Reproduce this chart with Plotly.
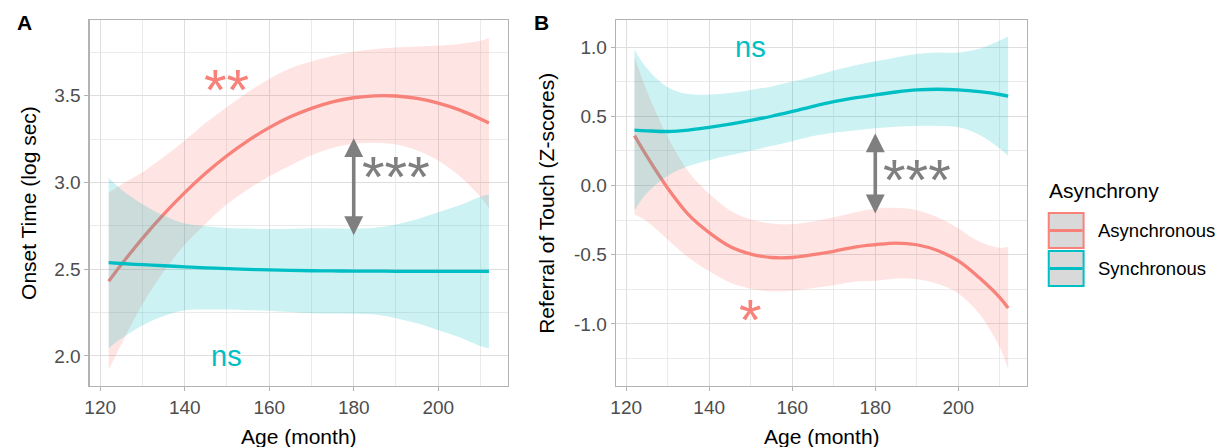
import plotly.graph_objects as go

# ---------------- data ----------------
ages = [122, 125, 130, 135, 140, 145, 150, 155, 160, 165, 170, 175, 180, 185, 190, 195, 200, 205, 210, 212]

# Panel A: Onset Time (log sec)
a_async_mean = [2.43, 2.527, 2.678, 2.816, 2.941, 3.054, 3.154, 3.241, 3.316, 3.378, 3.427, 3.464, 3.488, 3.499, 3.498, 3.484, 3.457, 3.418, 3.366, 3.342]
a_async_up   = [2.94, 2.987, 3.058, 3.146, 3.241, 3.344, 3.434, 3.521, 3.596, 3.658, 3.697, 3.729, 3.753, 3.769, 3.778, 3.784, 3.787, 3.798, 3.816, 3.832]
a_async_lo   = [1.92, 2.067, 2.298, 2.486, 2.641, 2.764, 2.874, 2.961, 3.036, 3.098, 3.157, 3.199, 3.223, 3.229, 3.218, 3.184, 3.127, 3.038, 2.916, 2.852]
a_sync_mean  = [2.538, 2.533, 2.526, 2.52, 2.514, 2.508, 2.503, 2.499, 2.496, 2.493, 2.491, 2.49, 2.489, 2.489, 2.488, 2.488, 2.488, 2.488, 2.488, 2.488]
a_sync_up    = [3.025, 2.96, 2.875, 2.81, 2.764, 2.748, 2.738, 2.734, 2.731, 2.733, 2.736, 2.735, 2.734, 2.739, 2.758, 2.788, 2.828, 2.868, 2.918, 2.93]
a_sync_lo    = [2.045, 2.10, 2.175, 2.23, 2.264, 2.268, 2.268, 2.264, 2.261, 2.253, 2.246, 2.245, 2.244, 2.239, 2.218, 2.188, 2.148, 2.108, 2.058, 2.045]

# Panel B: Referral of Touch (Z-scores)
b_async_mean = [0.36, 0.21, -0.02, -0.21, -0.34, -0.44, -0.495, -0.52, -0.52, -0.50, -0.475, -0.445, -0.428, -0.416, -0.428, -0.47, -0.545, -0.665, -0.81, -0.885]
b_async_up   = [0.93, 0.68, 0.35, 0.10, -0.06, -0.18, -0.245, -0.275, -0.28, -0.26, -0.23, -0.195, -0.168, -0.161, -0.178, -0.23, -0.31, -0.405, -0.45, -0.445]
b_async_lo   = [-0.21, -0.26, -0.39, -0.52, -0.62, -0.70, -0.745, -0.765, -0.76, -0.74, -0.72, -0.695, -0.688, -0.671, -0.678, -0.71, -0.78, -0.925, -1.17, -1.325]
b_sync_mean  = [0.40, 0.395, 0.39, 0.40, 0.42, 0.443, 0.47, 0.50, 0.535, 0.572, 0.605, 0.632, 0.655, 0.675, 0.69, 0.695, 0.69, 0.677, 0.657, 0.645]
b_sync_up    = [0.98, 0.845, 0.71, 0.66, 0.657, 0.668, 0.69, 0.715, 0.75, 0.787, 0.83, 0.867, 0.897, 0.925, 0.95, 0.96, 0.96, 0.987, 1.047, 1.075]
b_sync_lo    = [-0.18, -0.055, 0.07, 0.14, 0.183, 0.218, 0.25, 0.285, 0.32, 0.357, 0.38, 0.397, 0.413, 0.425, 0.43, 0.43, 0.42, 0.367, 0.267, 0.215]

groups = ["Asynchronous", "Synchronous"]
legend_title = "Asynchrony"

x_ticks = [120, 140, 160, 180, 200]
x_ticktext = ["120", "140", "160", "180", "200"]
ya_ticks = [2.0, 2.5, 3.0, 3.5]
ya_ticktext = ["2.0", "2.5", "3.0", "3.5"]
yb_ticks = [-1.0, -0.5, 0.0, 0.5, 1.0]
yb_ticktext = ["-1.0", "-0.5", "0.0", "0.5", "1.0"]

# ---------------- styling ----------------
W, H = 1229, 447
FONT = "Liberation Sans, Arial, sans-serif"
PINK = "#F8817A"
CYAN = "#00BFC4"
PINK_FILL = "rgba(248,118,109,0.2)"
CYAN_FILL = "rgba(0,191,196,0.2)"
GREY_ARROW = "#7F7F7F"
BORDER = "#B3B3B3"
GRID = "#DEDEDE"


def px_x(p):
    return p / W


def px_y(p):
    return 1 - p / H


fig = go.Figure()


def add_group(xa, ya, mean, lo, up, color, fill):
    fig.add_trace(go.Scatter(x=ages, y=lo, mode="lines", line=dict(width=0, shape="spline"),
                             xaxis=xa, yaxis=ya, showlegend=False, hoverinfo="skip"))
    fig.add_trace(go.Scatter(x=ages, y=up, mode="lines", line=dict(width=0, shape="spline"),
                             fill="tonexty", fillcolor=fill,
                             xaxis=xa, yaxis=ya, showlegend=False, hoverinfo="skip"))
    fig.add_trace(go.Scatter(x=ages, y=mean, mode="lines", line=dict(color=color, width=3.3, shape="spline"),
                             xaxis=xa, yaxis=ya, showlegend=False))


add_group("x", "y", a_async_mean, a_async_lo, a_async_up, PINK, PINK_FILL)
add_group("x", "y", a_sync_mean, a_sync_lo, a_sync_up, CYAN, CYAN_FILL)
add_group("x2", "y2", b_async_mean, b_async_lo, b_async_up, PINK, PINK_FILL)
add_group("x2", "y2", b_sync_mean, b_sync_lo, b_sync_up, CYAN, CYAN_FILL)

xrange = [117.5, 216.5]
common_x = dict(range=xrange, tickvals=x_ticks, ticktext=x_ticktext,
                showgrid=True, gridcolor=GRID, gridwidth=1,
                minor=dict(showgrid=True, gridcolor=GRID, gridwidth=0.6, dtick=10, tick0=120),
                showline=True, mirror=True, linecolor=BORDER, linewidth=1.2,
                ticks="outside", ticklen=4, tickcolor=BORDER, tickwidth=1,
                tickfont=dict(family=FONT, size=19, color="#4D4D4D"),
                zeroline=False, fixedrange=True)
common_y = dict(showgrid=True, gridcolor=GRID, gridwidth=1,
                showline=True, mirror=True, linecolor=BORDER, linewidth=1.2,
                ticks="outside", ticklen=4, tickcolor=BORDER, tickwidth=1,
                tickfont=dict(family=FONT, size=19, color="#4D4D4D"),
                zeroline=False, fixedrange=True)

ydom = [px_y(386), px_y(20)]
fig.update_layout(
    width=W, height=H,
    margin=dict(l=0, r=0, t=0, b=0),
    paper_bgcolor="white", plot_bgcolor="white",
    font=dict(family=FONT, color="black"),
    showlegend=False,
    xaxis=dict(domain=[px_x(85), px_x(505)], anchor="y", **common_x),
    yaxis=dict(domain=ydom, anchor="x", range=[1.827, 3.936], tickvals=ya_ticks, ticktext=ya_ticktext,
               minor=dict(showgrid=True, gridcolor=GRID, gridwidth=0.6, dtick=0.25, tick0=2.0), **common_y),
    xaxis2=dict(domain=[px_x(613.3), px_x(1026)], anchor="y2", **common_x),
    yaxis2=dict(domain=ydom, anchor="x2", range=[-1.448, 1.195], tickvals=yb_ticks, ticktext=yb_ticktext,
                minor=dict(showgrid=True, gridcolor=GRID, gridwidth=0.6, dtick=0.25, tick0=0.0), **common_y),
)

ann = []
# panel letters
ann.append(dict(text="<b>A</b>", x=px_x(20), y=px_y(22.5), xref="paper", yref="paper",
                showarrow=False, font=dict(family=FONT, size=21, color="black"), xanchor="center", yanchor="middle"))
ann.append(dict(text="<b>B</b>", x=px_x(539), y=px_y(22.5), xref="paper", yref="paper",
                showarrow=False, font=dict(family=FONT, size=21, color="black"), xanchor="center", yanchor="middle"))
# axis titles
ann.append(dict(text="Onset Time (log sec)", x=px_x(23), y=px_y(203), xref="paper", yref="paper", textangle=-90,
                showarrow=False, font=dict(family=FONT, size=21, color="black"), xanchor="center", yanchor="middle"))
ann.append(dict(text="Referral of Touch (Z-scores)", x=px_x(543), y=px_y(203), xref="paper", yref="paper", textangle=-90,
                showarrow=False, font=dict(family=FONT, size=21, color="black"), xanchor="center", yanchor="middle"))
ann.append(dict(text="Age (month)", x=px_x(295), y=px_y(436), xref="paper", yref="paper",
                showarrow=False, font=dict(family=FONT, size=21, color="black"), xanchor="center", yanchor="middle"))
ann.append(dict(text="Age (month)", x=px_x(820), y=px_y(436), xref="paper", yref="paper",
                showarrow=False, font=dict(family=FONT, size=21, color="black"), xanchor="center", yanchor="middle"))

# significance labels
STAR = 58
NS = 29
SHIFT = 6
ann.append(dict(text="**", x=150, y=3.5, xref="x", yref="y", showarrow=False, yshift=SHIFT,
                font=dict(family=FONT, size=STAR, color=PINK), xanchor="center", yanchor="middle"))
ann.append(dict(text="***", x=190, y=3.0, xref="x", yref="y", showarrow=False, yshift=SHIFT,
                font=dict(family=FONT, size=STAR, color=GREY_ARROW), xanchor="center", yanchor="middle"))
ann.append(dict(text="ns", x=150, y=2.0, xref="x", yref="y", showarrow=False,
                font=dict(family=FONT, size=NS, color=CYAN), xanchor="center", yanchor="middle"))
ann.append(dict(text="ns", x=150, y=1.0, xref="x2", yref="y2", showarrow=False,
                font=dict(family=FONT, size=NS, color=CYAN), xanchor="center", yanchor="middle"))
ann.append(dict(text="***", x=190, y=0.0, xref="x2", yref="y2", showarrow=False, yshift=SHIFT,
                font=dict(family=FONT, size=STAR, color=GREY_ARROW), xanchor="center", yanchor="middle"))
ann.append(dict(text="*", x=150, y=-1.0, xref="x2", yref="y2", showarrow=False, yshift=SHIFT - 2,
                font=dict(family=FONT, size=STAR, color=PINK), xanchor="center", yanchor="middle"))

# double arrows
ann.append(dict(text="", x=180, y=3.255, ax=180, ay=2.687, xref="x", yref="y", axref="x", ayref="y",
                showarrow=True, arrowside="end+start", arrowhead=2, arrowsize=1.05, arrowwidth=3.6,
                arrowcolor=GREY_ARROW, standoff=0, startstandoff=0))
ann.append(dict(text="", x=180, y=0.377, ax=180, ay=-0.213, xref="x2", yref="y2", axref="x2", ayref="y2",
                showarrow=True, arrowside="end+start", arrowhead=2, arrowsize=1.05, arrowwidth=3.6,
                arrowcolor=GREY_ARROW, standoff=0, startstandoff=0))

# legend (drawn manually, ggplot-style keys)
ann.append(dict(text=legend_title, x=px_x(1046), y=px_y(190), xref="paper", yref="paper", showarrow=False,
                font=dict(family=FONT, size=21, color="black"), xanchor="left", yanchor="middle"))
shapes = []
for i, (g, col) in enumerate(zip(groups, [PINK, CYAN])):
    top = 213 + i * 38
    bot = top + 35
    shapes.append(dict(type="rect", xref="paper", yref="paper",
                       x0=px_x(1048), x1=px_x(1083), y0=px_y(bot), y1=px_y(top),
                       fillcolor="#D9D9D9", line=dict(color=col, width=2)))
    mid = (top + bot) / 2
    shapes.append(dict(type="line", xref="paper", yref="paper",
                       x0=px_x(1049), x1=px_x(1082), y0=px_y(mid), y1=px_y(mid),
                       line=dict(color=col, width=3)))
    ann.append(dict(text=g, x=px_x(1095), y=px_y(mid), xref="paper", yref="paper", showarrow=False,
                    font=dict(family=FONT, size=18.5, color="black"), xanchor="left", yanchor="middle"))

fig.update_layout(annotations=ann, shapes=shapes)
fig.write_html("out.html",
               config={"displayModeBar": False, "staticPlot": True},
               post_script="document.body.style.margin='0px';document.body.style.padding='0px';"
                           "document.body.style.overflow='hidden';")
